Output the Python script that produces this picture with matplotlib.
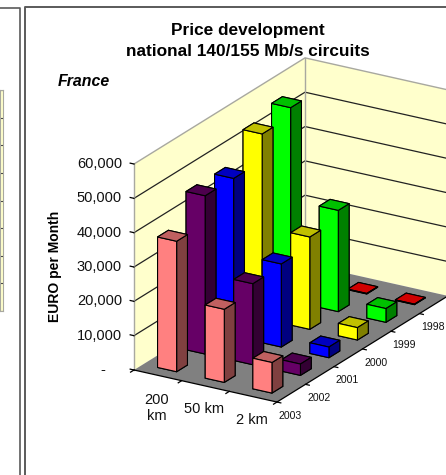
#Price development chart, Excel style 3D columns

import numpy as np
from matplotlib import pyplot as plt
from mpl_toolkits.mplot3d import proj3d
from mpl_toolkits.mplot3d.art3d import Poly3DCollection

plt.rcParams['font.family'] = ['Liberation Sans', 'DejaVu Sans']

distances = ["200\nkm", "50 km", "2 km"]
years = ["2003", "2002", "2001", "2000", "1999", "1998"]
values_2003 = [38000, 21300, 8900]
values_2002 = [46100, 23600, 3300]
values_2001 = [46000, 24200, 3100]
values_2000 = [53800, 26900, 3600]
values_1999 = [56300, 29500, 4000]
values_1998 = [150, 150, 150]
value_ticks = [0, 10000, 20000, 30000, 40000, 50000, 60000]
value_labels = ["-", "10,000", "20,000", "30,000", "40,000", "50,000", "60,000"]

series = [values_2003, values_2002, values_2001, values_2000, values_1999, values_1998]
# front, side, top
colors = [("#ff8080", "#804040", "#c06060"),
          ("#660066", "#330033", "#4d004d"),
          ("#0000ff", "#000080", "#0000c0"),
          ("#ffff00", "#808000", "#c0c000"),
          ("#00ff00", "#008000", "#00c000"),
          ("#ff0000", "#800000", "#d00000")]

W, H = 446, 475
fig = plt.figure(figsize=(W/100, H/100), dpi=100)
ax = fig.add_axes([0, 0, 1, 1], projection="3d", computed_zorder=False)
ax.patch.set_alpha(0)
ax.set_proj_type("ortho")
ax.view_init(elev=21.9, azim=-59)
ax.set_xlim(0, 3, view_margin=0)
ax.set_ylim(0, 6, view_margin=0)
ax.set_zlim(0, 60000, view_margin=0)
ax.set_axis_off()

aspect = (166.8, 332, 222)
ax.set_box_aspect(aspect, zoom=1.0)

# walls and floor
top = value_ticks[-1]
wall = "#ffffcc"
ax.add_collection3d(Poly3DCollection([[(0, 0, 0), (0, 6, 0), (0, 6, top), (0, 0, top)]],
                                     facecolor=wall, edgecolor="none", zorder=1))
ax.add_collection3d(Poly3DCollection([[(0, 6, 0), (3, 6, 0), (3, 6, top), (0, 6, top)]],
                                     facecolor=wall, edgecolor="none", zorder=1))
ax.add_collection3d(Poly3DCollection([[(0, 0, 0), (3, 0, 0), (3, 6, 0), (0, 6, 0)]],
                                     facecolor="#808080", edgecolor="none", zorder=2))

for v in value_ticks[1:-1]:
    ax.plot([0, 0, 3], [0, 6, 6], [v, v, v], color="#222222", lw=0.9, zorder=3)
ax.plot([0, 0, 3], [0, 6, 6], [top, top, top], color="#a8a8a0", lw=1.0, zorder=3)
ax.plot([0, 0], [0, 0], [0, top], color="#a8a8a0", lw=1.0, zorder=3)
ax.plot([0, 0], [6, 6], [0, top], color="#a8a8a0", lw=1.0, zorder=3)

# axis lines and ticks
ax.plot([0, 3, 3], [0, 0, 6], [0, 0, 0], color="black", lw=0.9, zorder=3)
for v in value_ticks:
    ax.plot([-0.08, 0], [0, 0], [v, v], color="black", lw=0.9, zorder=3)
for i in range(len(distances) + 1):
    ax.plot([i, i], [0, -0.12], [0, 0], color="black", lw=0.9, zorder=3)
for j in range(len(years) + 1):
    ax.plot([3, 3.08], [j, j], [0, 0], color="black", lw=0.9, zorder=3)

# columns, back row first so the front ones cover them
bar_w = 0.4
bar_d = 0.38
order = 10
for j in range(len(years) - 1, -1, -1):
    for i in range(len(distances)):
        front, side, cap = colors[j]
        # bar3d face order: bottom, top, -y, +y, -x, +x
        faces = [side, cap, front, side, side, side]
        ax.bar3d(i + 0.5 - bar_w/2, j + 0.5 - 0.175, 0, bar_w, bar_d, series[j][i],
                 color=faces, shade=False, edgecolor="black", linewidth=0.8, zorder=order)
        order += 1

# line the projection up with the picture: floor corners in pixels
target_a = np.array([134.0, H - 370.0])
target_c = np.array([448.0, H - 296.0])
def corner(x, y, z):
    px, py, _ = proj3d.proj_transform(x, y, z, ax.get_proj())
    return ax.transData.transform((px, py))

zoom = 1.0
for n in range(3):
    ax.set_box_aspect(aspect, zoom=zoom)
    ax.apply_aspect()
    a = corner(0, 0, 0)
    c = corner(3, 6, 0)
    zoom *= np.linalg.norm(target_c - target_a) / np.linalg.norm(c - a)
ax.set_box_aspect(aspect, zoom=zoom)
ax.apply_aspect()
shift = target_a - corner(0, 0, 0)
ax.set_position([shift[0]/W, shift[1]/H, 1, 1])
ax.apply_aspect()

# labels sit at a pixel offset from their place on the axes
def label(x, y, z, s, dx, dy, **kw):
    px, py = corner(x, y, z)
    fig.text((px + dx)/W, (py - dy)/H, s, color="#111111", **kw)

for v, s in zip(value_ticks, value_labels):
    dx = -12 if v > 0 else -29
    label(0, 0, v, s, dx, 0, ha="right", va="center", fontsize=10.5)
for i, s in enumerate(distances):
    dy = 33 if i == 0 else 23
    label(i + 0.5, 0, 0, s, -1, dy, ha="center", va="center", fontsize=10.5, linespacing=1.2)
for j, s in enumerate(years):
    label(3, j + 0.5, 0, s, -1, 22.5, ha="center", va="center", fontsize=7.6)

fig.text(248/W, 1 - 31/H, "Price development", ha="center", va="center",
         fontsize=12.4, fontweight="bold")
fig.text(248/W, 1 - 52/H, "national 140/155 Mb/s circuits", ha="center", va="center",
         fontsize=12.4, fontweight="bold")
fig.text(84/W, 1 - 81/H, "France", ha="center", va="center", fontsize=11.4,
         fontweight="bold", fontstyle="italic")
fig.text(55/W, 1 - 266/H, "EURO per Month", ha="center", va="center", rotation=90,
         fontsize=10, fontweight="bold")

# panel frames
frame = "#5a5a5a"
fig.add_artist(plt.Line2D([0, 19.5/W, 19.5/W], [1 - 8/H, 1 - 8/H, 0], color=frame, lw=1.2))
fig.add_artist(plt.Line2D([24.5/W, 24.5/W, 1], [0, 1 - 7/H, 1 - 7/H], color=frame, lw=1.4))

# edge of the neighbouring chart, only its back wall shows
ax_left = fig.add_axes([0, 1 - 311/H, 3/W, 221/H], facecolor=wall)
ax_left.set_xlim(0, 1)
ax_left.set_ylim(0, 8)
ax_left.set_xticks([])
ax_left.set_yticks(range(9))
ax_left.set_yticklabels([])
ax_left.tick_params(length=0)
ax_left.grid(axis="y", color="#444444", lw=0.8)
for side in ax_left.spines.values():
    side.set_color("#a8a8a0")
    side.set_linewidth(0.8)

fig.savefig("out.png", dpi=100)
